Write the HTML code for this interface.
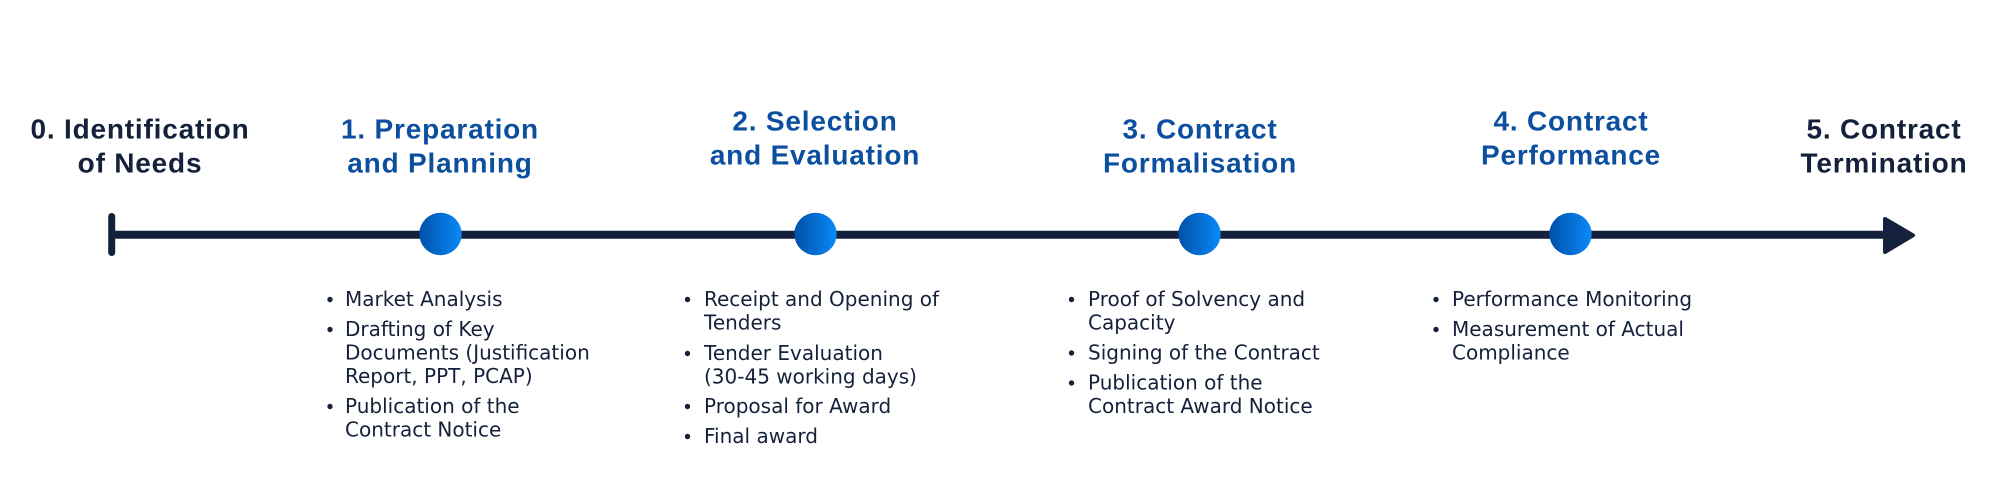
<!DOCTYPE html>
<html>
<head>
<meta charset="utf-8">
<style>
  html, body { margin: 0; padding: 0; background: #ffffff; }
  body { width: 2000px; height: 500px; overflow: hidden; }
  svg { display: block; }
  .t { font-family: "Liberation Sans", "DejaVu Sans", sans-serif; font-weight: bold; font-size: 28px; letter-spacing: 0.8px; }
  .dark { fill: #15213b; }
  .blue { fill: #0b4f9e; }
  .b { font-family: "DejaVu Sans", "Liberation Sans", sans-serif; font-size: 20px; fill: #15213b; }
</style>
</head>
<body>
<svg width="2000" height="500" viewBox="0 0 2000 500" xmlns="http://www.w3.org/2000/svg">
  <defs>
    <linearGradient id="g" x1="0" y1="0" x2="1" y2="0">
      <stop offset="0" stop-color="#0050aa"/>
      <stop offset="1" stop-color="#0a8af7"/>
    </linearGradient>
  </defs>

  <!-- timeline -->
  <line x1="111.7" y1="216.5" x2="111.7" y2="252.5" stroke="#14213d" stroke-width="7" stroke-linecap="round"/>
  <line x1="112" y1="234.7" x2="1888" y2="234.7" stroke="#14213d" stroke-width="8"/>
  <polygon points="1885,219 1913,235.3 1885,252" fill="#14213d" stroke="#14213d" stroke-width="4" stroke-linejoin="round"/>

  <!-- nodes -->
  <circle cx="440.5" cy="234" r="21.2" fill="url(#g)"/>
  <circle cx="815.5" cy="234" r="21.2" fill="url(#g)"/>
  <circle cx="1199.5" cy="234" r="21.2" fill="url(#g)"/>
  <circle cx="1570.5" cy="234" r="21.2" fill="url(#g)"/>

  <!-- titles -->
  <text class="t dark" text-anchor="middle" x="140" y="138.3">0. Identification</text>
  <text class="t dark" text-anchor="middle" x="140" y="172.5">of Needs</text>

  <text class="t blue" text-anchor="middle" x="440" y="138.3">1. Preparation</text>
  <text class="t blue" text-anchor="middle" x="440" y="172.5">and Planning</text>

  <text class="t blue" text-anchor="middle" x="815" y="130.5">2. Selection</text>
  <text class="t blue" text-anchor="middle" x="815" y="164.7">and Evaluation</text>

  <text class="t blue" text-anchor="middle" x="1200" y="138.3">3. Contract</text>
  <text class="t blue" text-anchor="middle" x="1200" y="172.5">Formalisation</text>

  <text class="t blue" text-anchor="middle" x="1571" y="130.5">4. Contract</text>
  <text class="t blue" text-anchor="middle" x="1571" y="164.7">Performance</text>

  <text class="t dark" text-anchor="middle" x="1884" y="138.3">5. Contract</text>
  <text class="t dark" text-anchor="middle" x="1884" y="172.5">Termination</text>

  <!-- list 1 -->
  <g>
    <circle cx="330" cy="299.5" r="2.7" fill="#15213b"/>
    <text class="b" x="345" y="306">Market Analysis</text>
    <circle cx="330" cy="329.5" r="2.7" fill="#15213b"/>
    <text class="b" x="345" y="336">Drafting of Key</text>
    <text class="b" x="345" y="359.5">Documents (Justification</text>
    <text class="b" x="345" y="383">Report, PPT, PCAP)</text>
    <circle cx="330" cy="406.5" r="2.7" fill="#15213b"/>
    <text class="b" x="345" y="413">Publication of the</text>
    <text class="b" x="345" y="436.5">Contract Notice</text>
  </g>

  <!-- list 2 -->
  <g>
    <circle cx="687.5" cy="299.5" r="2.7" fill="#15213b"/>
    <text class="b" x="704" y="306">Receipt and Opening of</text>
    <text class="b" x="704" y="329.5">Tenders</text>
    <circle cx="687.5" cy="353.5" r="2.7" fill="#15213b"/>
    <text class="b" x="704" y="360">Tender Evaluation</text>
    <text class="b" x="704" y="383.5">(30-45 working days)</text>
    <circle cx="687.5" cy="406.5" r="2.7" fill="#15213b"/>
    <text class="b" x="704" y="413">Proposal for Award</text>
    <circle cx="687.5" cy="436.5" r="2.7" fill="#15213b"/>
    <text class="b" x="704" y="443">Final award</text>
  </g>

  <!-- list 3 -->
  <g>
    <circle cx="1071.5" cy="299.5" r="2.7" fill="#15213b"/>
    <text class="b" x="1088" y="306">Proof of Solvency and</text>
    <text class="b" x="1088" y="329.5">Capacity</text>
    <circle cx="1071.5" cy="353" r="2.7" fill="#15213b"/>
    <text class="b" x="1088" y="359.5">Signing of the Contract</text>
    <circle cx="1071.5" cy="383" r="2.7" fill="#15213b"/>
    <text class="b" x="1088" y="389.5">Publication of the</text>
    <text class="b" x="1088" y="413">Contract Award Notice</text>
  </g>

  <!-- list 4 -->
  <g>
    <circle cx="1436" cy="299.5" r="2.7" fill="#15213b"/>
    <text class="b" x="1452" y="306">Performance Monitoring</text>
    <circle cx="1436" cy="329.5" r="2.7" fill="#15213b"/>
    <text class="b" x="1452" y="336">Measurement of Actual</text>
    <text class="b" x="1452" y="359.5">Compliance</text>
  </g>
</svg>
</body>
</html>
